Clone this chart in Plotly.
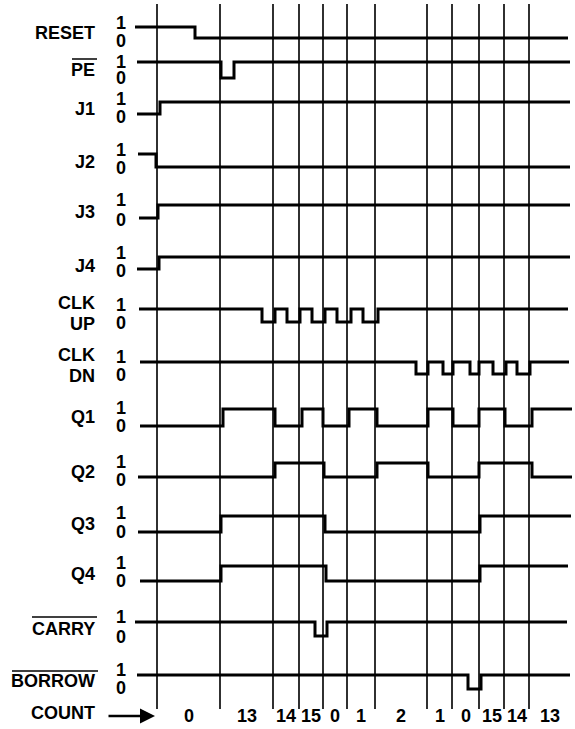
import plotly.graph_objects as go

# ---------------- data ----------------
signals = ["RESET", "PE", "J1", "J2", "J3", "J4", "CLK UP", "CLK DN",
           "Q1", "Q2", "Q3", "Q4", "CARRY", "BORROW"]
overlined = ["PE", "CARRY", "BORROW"]
start_level = [1, 1, 0, 1, 0, 0, 1, 1, 0, 0, 0, 0, 1, 1]
t_begin = [135, 137, 137, 138, 139, 137, 139, 140, 140, 138, 138, 140, 135, 137]
t_finish = [568, 570, 570, 570, 570, 570, 568, 569, 572, 572, 571, 568, 567, 570]

edges_reset = [195]
edges_pe = [221, 234]
edges_j1 = [160]
edges_j2 = [156]
edges_j3 = [158]
edges_j4 = [159]
edges_clk_up = [262, 275, 287, 300, 312, 325, 337, 351, 363, 378]
edges_clk_dn = [416, 428, 443, 453, 470, 479, 493, 506, 517, 530]
edges_q1 = [223, 275, 302, 323, 349, 377, 428, 453, 479, 505, 532]
edges_q2 = [275, 324, 377, 428, 479, 532]
edges_q3 = [221, 325, 480]
edges_q4 = [221, 326, 480]
edges_carry = [315, 327]
edges_borrow = [468, 481]
all_edges = [edges_reset, edges_pe, edges_j1, edges_j2, edges_j3, edges_j4,
             edges_clk_up, edges_clk_dn, edges_q1, edges_q2, edges_q3, edges_q4,
             edges_carry, edges_borrow]

count_bounds = [157, 220, 273, 299, 323, 347, 375, 427, 452, 479, 504, 529, 570]
count_values = ["0", "13", "14", "15", "0", "1", "2", "1", "0", "15", "14", "13"]

# ---------------- layout constants ----------------
ROW_HIGH = [27, 62, 102, 154, 205, 257, 309, 362, 409, 463, 516, 566, 622, 675]
ROW_LOW = [38, 78, 114, 167, 218, 269, 322, 374, 426, 477, 532, 581, 636, 689]
LABEL_Y = [33, 70, 109, 162, 212, 266, None, None, 417, 472, 524, 574, 629, 681]
ONE_Y = [23, 62, 99, 150, 200, 253, 305, 357, 408, 462, 513, 563, 617, 670]
ZERO_Y = [41, 78, 117, 168, 220, 271, 323, 375, 426, 480, 532, 581, 637, 688]
LABEL_X = 97
DIGIT_X = 121
GRID_TOP, GRID_BOTTOM = 4, 709
COUNT_Y = 716
FS = 18
FONT = dict(family="Liberation Sans, Arial, sans-serif", size=FS, color="#000")

fig = go.Figure()

# vertical time-division lines
gx, gy = [], []
for t in count_bounds[:-1]:
    gx += [t, t, None]
    gy += [GRID_TOP, GRID_BOTTOM, None]
fig.add_trace(go.Scatter(x=gx, y=gy, mode="lines",
                         line=dict(color="#1a1a1a", width=1.8),
                         hoverinfo="skip", showlegend=False))

# signal waveforms
for i, name in enumerate(signals):
    lvl = start_level[i]
    xs, ls = [t_begin[i]], [lvl]
    for e in all_edges[i]:
        xs += [e, e]
        ls += [lvl, 1 - lvl]
        lvl = 1 - lvl
    xs.append(t_finish[i])
    ls.append(lvl)
    hi, lo = ROW_HIGH[i], ROW_LOW[i]
    ys = [lo - v * (lo - hi) for v in ls]
    fig.add_trace(go.Scatter(x=xs, y=ys, mode="lines", name=name,
                             line=dict(color="#000", width=3),
                             hoverinfo="skip", showlegend=False))

ann = []
def txt(x, y, s, xanchor="right"):
    ann.append(dict(x=x, y=y, xref="x", yref="y", text="<b>%s</b>" % s,
                    showarrow=False, xanchor=xanchor, yanchor="middle",
                    font=FONT))

for i, name in enumerate(signals):
    if name.startswith("CLK"):
        r = name.split(" ")
        txt(LABEL_X, ONE_Y[i] - 2, r[0])
        txt(LABEL_X, ZERO_Y[i] + 1, r[1])
    else:
        txt(LABEL_X, LABEL_Y[i], name)
    txt(DIGIT_X, ONE_Y[i], "1", "center")
    txt(DIGIT_X, ZERO_Y[i], "0", "center")

# count values centered in each division
for k, v in enumerate(count_values):
    txt((count_bounds[k] + count_bounds[k + 1]) / 2, COUNT_Y, v, "center")

txt(LABEL_X, 713, "COUNT")
ann.append(dict(x=155, y=716, ax=107, ay=716, xref="x", yref="y",
                axref="x", ayref="y", text="", showarrow=True,
                arrowhead=2, arrowsize=1.2, arrowwidth=2.5, arrowcolor="#000"))

# overlines for active-low signal names
over = {"PE": (72, 97, 59), "CARRY": (32, 97, 617), "BORROW": (12, 98, 671)}
shapes = []
for n in overlined:
    x0, x1, y = over[n]
    shapes.append(dict(type="line", xref="x", yref="y", x0=x0, x1=x1,
                       y0=y, y1=y, line=dict(color="#000", width=1.5)))

fig.update_layout(
    width=575, height=729, margin=dict(l=0, r=0, t=0, b=0),
    paper_bgcolor="white", plot_bgcolor="white",
    xaxis=dict(range=[0, 575], visible=False, fixedrange=True),
    yaxis=dict(range=[729, 0], visible=False, fixedrange=True),
    annotations=ann, shapes=shapes, showlegend=False,
)
fig.write_html("out.html", config={"displayModeBar": False},
               post_script="document.body.style.margin='0';"
                           "document.body.style.overflow='hidden';")
